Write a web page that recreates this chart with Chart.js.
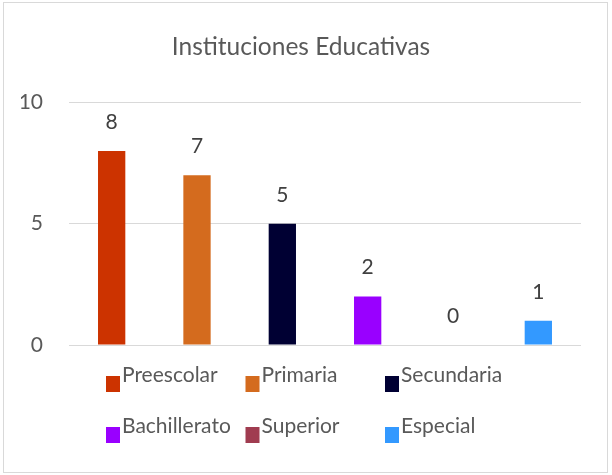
<!DOCTYPE html>
<html>
<head>
<meta charset="utf-8">
<script src="https://cdn.jsdelivr.net/npm/chart.js@4.4.1/dist/chart.umd.min.js"></script>
<style>
  html, body { margin: 0; padding: 0; background: #fff; }
  #wrap { position: relative; width: 612px; height: 475px; }
</style>
</head>
<body>
<div id="wrap"><canvas id="chart" width="612" height="475"></canvas></div>
<script>
// Datos de la gráfica
const categorias = ['Preescolar', 'Primaria', 'Secundaria', 'Bachillerato', 'Superior', 'Especial'];
const cantidades = [8, 7, 5, 2, 0, 1];
const colores = ['#CC3300', '#D46B1E', '#000033', '#9900FF', '#A03C50', '#3399FF'];
const ticksY = [0, 5, 10];

const fuente = 'Lato, "Open Sans", sans-serif';

// Marco gris alrededor de la gráfica
const marco = {
    id: 'marco',
    beforeDraw(chart) {
        const ctx = chart.ctx;
        ctx.save();
        ctx.fillStyle = '#ffffff';
        ctx.fillRect(0, 0, chart.width, chart.height);
        ctx.strokeStyle = '#d9d9d9';
        ctx.lineWidth = 1;
        ctx.strokeRect(3.5, 2.5, chart.width - 8, chart.height - 5);
        ctx.restore();
    }
};

// Etiquetas de valor encima de cada barra
const etiquetas = {
    id: 'etiquetas',
    afterDatasetsDraw(chart) {
        const ctx = chart.ctx;
        const meta = chart.getDatasetMeta(0);
        ctx.save();
        ctx.font = '21px ' + fuente;
        ctx.fillStyle = '#404040';
        ctx.textAlign = 'center';
        ctx.textBaseline = 'alphabetic';
        meta.data.forEach((bar, i) => {
            ctx.fillText(String(cantidades[i]), bar.x, bar.y - 22);
        });
        ctx.restore();
    }
};

// Leyenda en dos filas de tres columnas, debajo del área
const leyenda = {
    id: 'leyenda',
    afterDraw(chart) {
        const ctx = chart.ctx;
        const area = chart.chartArea;
        ctx.save();
        ctx.font = '21px ' + fuente;
        ctx.textAlign = 'left';
        ctx.textBaseline = 'alphabetic';
        categorias.forEach((nombre, i) => {
            const col = i % 3;
            const fila = Math.floor(i / 3);
            const x = area.left + 37 + col * 139.5;
            const y = area.bottom + 31 + fila * 51;
            ctx.fillStyle = colores[i];
            ctx.fillRect(x, y, 14, 16);
            ctx.fillStyle = '#595959';
            ctx.fillText(nombre, x + 16, y + 6);
        });
        ctx.restore();
    }
};

new Chart(document.getElementById('chart'), {
    type: 'bar',
    data: {
        labels: categorias,
        datasets: [{
            label: 'Instituciones',
            data: cantidades,
            backgroundColor: colores,
            categoryPercentage: 1,
            barPercentage: 0.32
        }]
    },
    options: {
        responsive: false,
        animation: false,
        layout: { padding: { left: 21, right: 31, top: 0, bottom: 130 } },
        scales: {
            x: { display: false },
            y: {
                min: 0,
                max: 10,
                afterFit(scale) { scale.width = 48; },
                afterBuildTicks(scale) { scale.ticks = ticksY.map(v => ({ value: v })); },
                border: { display: false },
                grid: { color: '#d9d9d9', lineWidth: 1, drawTicks: false },
                ticks: {
                    padding: 26,
                    color: '#595959',
                    font: { family: fuente, size: 21 }
                }
            }
        },
        plugins: {
            legend: { display: false },
            tooltip: { enabled: false },
            title: {
                display: true,
                text: 'Instituciones Educativas',
                color: '#595959',
                font: { family: fuente, size: 24.5, weight: 'normal', lineHeight: 1.2 },
                padding: { top: 32, bottom: 41 }
            }
        }
    },
    plugins: [marco, etiquetas, leyenda]
});
</script>
</body>
</html>
